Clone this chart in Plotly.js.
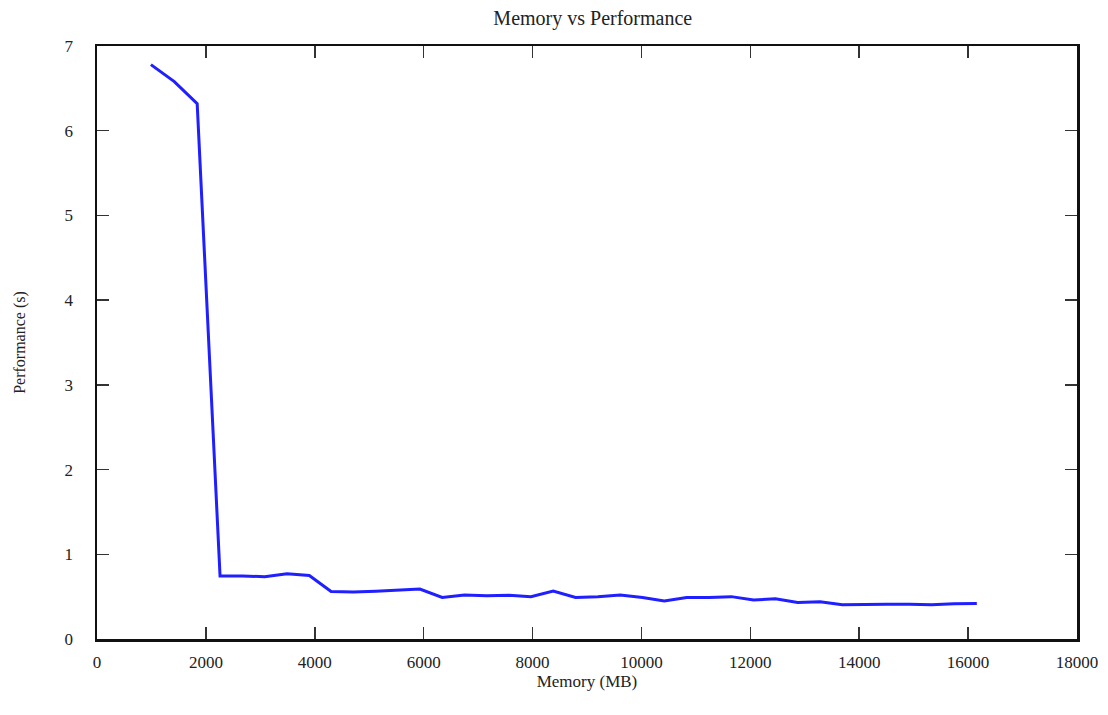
<!DOCTYPE html>
<html>
<head>
<meta charset="utf-8">
<script src="https://cdn.plot.ly/plotly-3.0.1.min.js"></script>
<style>html,body{margin:0;padding:0;background:#fff;}#chart{width:1108px;height:715px;}</style>
</head>
<body>
<div id="chart"></div>
<script>
const memoryMB = [990, 1420, 1840, 2260, 2670, 3080, 3490, 3900, 4300, 4710, 5120, 5530, 5930, 6340, 6750, 7160, 7570, 7970, 8380, 8790, 9200, 9610, 10020, 10420, 10830, 11240, 11650, 12060, 12460, 12870, 13280, 13690, 14100, 14510, 14920, 15330, 15740, 16160];
const performanceS = [6.78, 6.58, 6.32, 0.745, 0.745, 0.735, 0.77, 0.75, 0.56, 0.555, 0.565, 0.575, 0.59, 0.49, 0.52, 0.51, 0.515, 0.5, 0.565, 0.49, 0.5, 0.52, 0.49, 0.45, 0.49, 0.49, 0.5, 0.46, 0.475, 0.43, 0.44, 0.405, 0.41, 0.41, 0.41, 0.405, 0.415, 0.42];
const xTicks = [0, 2000, 4000, 6000, 8000, 10000, 12000, 14000, 16000, 18000];
const yTicks = [0, 1, 2, 3, 4, 5, 6, 7];

const serif = "Liberation Serif, Times New Roman, serif";
const trace = {
  x: memoryMB,
  y: performanceS,
  type: 'scatter',
  mode: 'lines',
  line: {color: '#1f1fff', width: 3},
  hoverinfo: 'x+y'
};
const axisCommon = {
  showgrid: false,
  zeroline: false,
  showline: true,
  linecolor: '#111',
  linewidth: 2.5,
  mirror: 'ticks',
  ticks: 'inside',
  ticklen: 12,
  tickwidth: 1.5,
  tickcolor: '#333',
  tickfont: {family: serif, size: 17, color: '#222'}
};
const layout = {
  width: 1108,
  height: 715,
  margin: {l: 97, r: 31, t: 46, b: 76},
  paper_bgcolor: '#fff',
  plot_bgcolor: '#fff',
  showlegend: false,
  title: {text: 'Memory vs Performance', font: {family: serif, size: 20, color: '#222'}, x: 0.535, xanchor: 'center', y: 0.975, yanchor: 'middle'},
  xaxis: Object.assign({}, axisCommon, {
    range: [0, 18000],
    tickvals: xTicks,
    ticktext: xTicks.map(String),
    ticklabelstandoff: 6,
    title: {text: 'Memory (MB)', font: {family: serif, size: 17, color: '#222'}, standoff: 0}
  }),
  yaxis: Object.assign({}, axisCommon, {
    range: [0, 7],
    tickvals: yTicks,
    ticktext: yTicks.map(String),
    ticklabelstandoff: 18,
    title: {text: 'Performance (s)', font: {family: serif, size: 16, color: '#222'}, standoff: 35}
  })
};
Plotly.newPlot('chart', [trace], layout, {displayModeBar: false, staticPlot: true});
</script>
</body>
</html>
